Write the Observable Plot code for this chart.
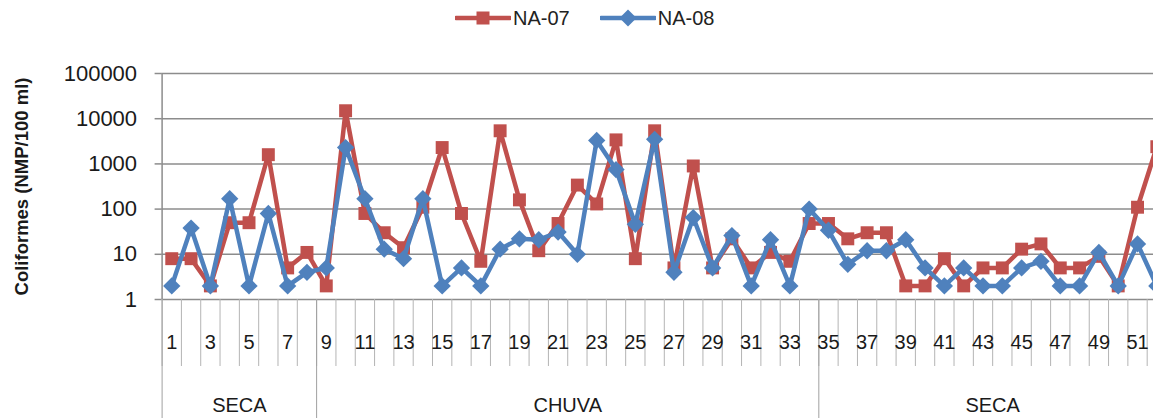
<!DOCTYPE html>
<html>
<head>
<meta charset="utf-8">
<script src="https://cdn.jsdelivr.net/npm/d3@7"></script>
<script src="https://cdn.jsdelivr.net/npm/@observablehq/plot@0.6"></script>
<style>
  html, body { margin: 0; padding: 0; background: #fff; overflow: hidden; width: 1153px; height: 418px; }
  #legend { height: 36px; display: flex; align-items: center; padding-left: 455px;
            font: 20px "Liberation Sans", Arial, sans-serif; color: #222; }
  .item { display: flex; align-items: center; margin-right: 30px; }
  .item svg { margin-right: 2px; }
  #chart { width: 1166px; }
  #chart svg { display: block; max-width: none !important; }
</style>
</head>
<body>
<div id="legend"></div>
<div id="chart"></div>
<script>
// Sampling weeks (categories along the x axis)
const categories = [1, 2, 3, 4, 5, 6, 7, 8, 9, 10, 11, 12, 13, 14, 15, 16, 17, 18, 19, 20,
  21, 22, 23, 24, 25, 26, 27, 28, 29, 30, 31, 32, 33, 34, 35, 36, 37, 38, 39, 40,
  41, 42, 43, 44, 45, 46, 47, 48, 49, 50, 51, 52];

// Coliform counts (NMP/100 ml) per station
const na07 = [8, 8, 2, 50, 50, 1600, 5, 11, 2, 15000,
  80, 30, 14, 110, 2300, 80, 7, 5400, 160, 12,
  48, 340, 130, 3400, 8, 5400, 5, 900, 5, 22,
  5, 11, 7, 48, 48, 22, 30, 30, 2, 2,
  8, 2, 5, 5, 13, 17, 5, 5, 9, 2,
  110, 2400];
const na08 = [2, 38, 2, 170, 2, 80, 2, 4, 5, 2300,
  170, 13, 8, 170, 2, 5, 2, 13, 22, 21,
  31, 10, 3300, 750, 46, 3500, 4, 65, 5, 26,
  2, 21, 2, 100, 34, 6, 12, 12, 21, 5,
  2, 5, 2, 2, 5, 7, 2, 2, 11, 2,
  17, 2];

// Series names and colours
const seriesNames = ["NA-07", "NA-08"];
const seriesColors = ["#C0504D", "#4F81BD"];

// Axis ticks and labels
const yTicks = [1, 10, 100, 1000, 10000, 100000];
const xTickLabels = [1, 3, 5, 7, 9, 11, 13, 15, 17, 19, 21, 23, 25, 27, 29, 31, 33, 35, 37, 39, 41, 43, 45, 47, 49, 51];
const yTitle = "Coliformes (NMP/100 ml)";

// Seasons
const groupLabels = ["SECA", "CHUVA", "SECA"];
const groupStarts = [1, 9, 35];
const groupEnds = [8, 34, 52];

const rows = categories.map((c, i) => ({cat: c, na07: na07[i], na08: na08[i]}));
const groups = groupLabels.map((g, i) => ({label: g, start: groupStarts[i], end: groupEnds[i]}));
const separators = categories.map(c => c - 0.5).concat([categories[categories.length - 1] + 0.5]);
const groupBounds = [groupStarts[0] - 0.5].concat(groupEnds.map(e => e + 0.5));

// Legend
const legend = document.getElementById("legend");
seriesNames.forEach((name, i) => {
  const item = document.createElement("div");
  item.className = "item";
  const marker = i === 0
    ? `<rect x="21.5" y="3.5" width="13" height="13" fill="${seriesColors[i]}"/>`
    : `<path d="M28,1.5 L36.5,10 L28,18.5 L19.5,10 Z" fill="${seriesColors[i]}"/>`;
  item.innerHTML = `<svg width="56" height="20"><line x1="1" x2="55" y1="10" y2="10" stroke="${seriesColors[i]}" stroke-width="4.5" stroke-linecap="round"/>${marker}</svg><span>${name}</span>`;
  legend.appendChild(item);
});

const gridColor = "#8c8c8c";
const sepColor = "#b4b4b4";

const chart = Plot.plot({
  width: 1166,
  height: 382,
  marginLeft: 161.6,
  marginRight: 0,
  marginTop: 37,
  marginBottom: 119,
  style: {fontFamily: "'Liberation Sans', Arial, sans-serif", background: "#fff", color: "#1a1a1a"},
  x: {type: "linear", domain: [0.5, 52.5], axis: null},
  y: {type: "log", domain: [1, 100000], axis: null},
  marks: [
    // horizontal gridlines
    Plot.ruleY(yTicks, {stroke: gridColor, strokeWidth: 1.5}),
    Plot.axisY({ticks: yTicks, tickFormat: d => String(d), tickSize: 7, tickPadding: 18,
      stroke: gridColor, strokeWidth: 1.5, fontSize: 22, label: null}),
    // category separators below the axis
    Plot.ruleX(separators, {x: d => d, y1: 1, y2: 1, insetBottom: -67, stroke: sepColor, strokeWidth: 1}),
    // season separators
    Plot.ruleX(groupBounds, {x: d => d, y1: 1, y2: 1, insetBottom: -119, stroke: "#a0a0a0", strokeWidth: 1}),
    // vertical axis line
    Plot.ruleX([0.5], {stroke: gridColor, strokeWidth: 1.5}),
    // x tick labels
    Plot.text(xTickLabels, {x: d => d, text: d => String(d), frameAnchor: "bottom", dy: 43,
      fontSize: 20, lineAnchor: "middle"}),
    // season labels
    Plot.text(groups, {x: d => (d.start + d.end) / 2, text: "label", frameAnchor: "bottom", dy: 106,
      fontSize: 20, lineAnchor: "middle"}),
    // y-axis title
    Plot.text([yTitle], {frameAnchor: "left", dx: -140, rotate: -90, textAnchor: "middle",
      fontWeight: "bold", fontSize: 18.5}),
    // NA-07
    Plot.line(rows, {x: "cat", y: "na07", stroke: seriesColors[0], strokeWidth: 4.5}),
    Plot.dot(rows, {x: "cat", y: "na07", symbol: "square", r: 7.3, fill: seriesColors[0]}),
    // NA-08
    Plot.line(rows, {x: "cat", y: "na08", stroke: seriesColors[1], strokeWidth: 4.5}),
    Plot.dot(rows, {x: "cat", y: "na08", symbol: "diamond2", r: 7.8, fill: seriesColors[1]})
  ]
});
document.getElementById("chart").appendChild(chart);
</script>
</body>
</html>
